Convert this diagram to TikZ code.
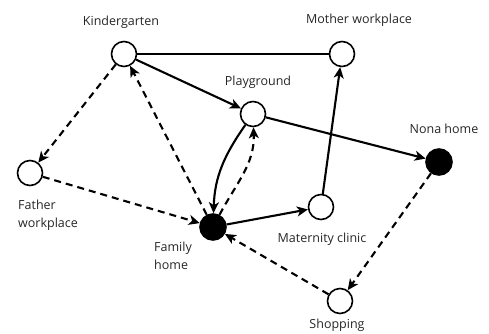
\documentclass[tikz,border=0pt]{standalone}
\usepackage{fontspec}
\setmainfont{Open Sans}
\usetikzlibrary{arrows.meta}
\begin{document}
\begin{tikzpicture}[x=1pt,y=1pt,
  place/.style={circle,draw,line width=1.6pt,minimum size=25pt,inner sep=0pt,fill=white},
  home/.style={circle,draw,line width=1.6pt,minimum size=26pt,inner sep=0pt,fill=black},
  lbl/.style={font=\fontsize{12.5}{18}\selectfont,text=black!85,inner sep=0pt},
  conn/.style={line width=2.1pt},
  arr/.style={conn,-{Stealth[length=11pt,width=10pt,inset=3pt]}},
  dsh/.style={dash pattern=on 7pt off 5pt}]
\useasboundingbox (0,0) rectangle (489,-333);
% nodes
\node[place] (kg) at (124,-54) {};
\node[place] (mw) at (342,-54) {};
\node[place] (pg) at (253,-114) {};
\node[home]  (nh) at (439,-162) {};
\node[place] (fw) at (30,-173) {};
\node[home]  (fh) at (213,-227) {};
\node[place] (mc) at (321,-207) {};
\node[place] (sh) at (340,-301) {};
% labels
\node[lbl] (kgl) at (121,-22) {Kindergarten};
\node[lbl] (mwl) at (359,-20) {Mother workplace};
\node[lbl] (pgl) at (258,-82) {Playground};
\node[lbl] (nhl) at (444,-129) {Nona home};
\node[lbl,align=left,anchor=north west] (fwl) at (18,-200) {Father\\workplace};
\node[lbl,align=left,anchor=north west] (fhl) at (154,-242) {Family\\home};
\node[lbl] (mcl) at (322,-239) {Maternity clinic};
\node[lbl] (shl) at (337,-325) {Shopping};
% connectors
\draw[conn] (kg) -- (mw);
\draw[arr] (kg) -- (pg);
\draw[arr] (pg) -- (nh);
\draw[arr] (mc) -- (mw);
\draw[arr] (fh) -- (mc);
\draw[arr] (pg) to[out=235,in=88] (fh);
\draw[arr,dsh] (fh) to[out=62,in=-88] (pg);
\draw[arr,dsh] (fh) -- (kg);
\draw[arr,dsh] (kg) -- (fw);
\draw[arr,dsh] (fw) -- (fh);
\draw[arr,dsh] (nh) -- (sh);
\draw[arr,dsh] (sh) -- (fh);
\end{tikzpicture}
\end{document}
